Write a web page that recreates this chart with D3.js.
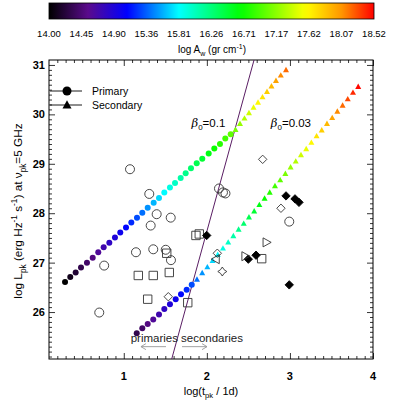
<!DOCTYPE html>
<html>
<head>
<meta charset="utf-8">
<script src="https://cdn.jsdelivr.net/npm/d3@7"></script>
<style>
  body { margin: 0; background: #fff; }
  svg { font-family: "Liberation Sans", Arial, Helvetica, sans-serif; }
</style>
</head>
<body>
<svg id="drawing_region"></svg>
<script>
// model tracks: [log t_pk, log L_pk, log A_w]
const beta01Primary = [
    [0.293,26.61,14.0],[0.356,26.71,14.1],[0.421,26.80,14.2],[0.485,26.90,14.3],[0.557,27.00,14.4],
    [0.626,27.10,14.5],[0.693,27.21,14.6],[0.758,27.31,14.7],[0.826,27.40,14.8],[0.894,27.51,14.9],
    [0.958,27.61,15.0],[1.027,27.71,15.1],[1.091,27.81,15.2],[1.159,27.91,15.3],[1.223,28.01,15.4],
    [1.288,28.11,15.5],[1.360,28.21,15.6],[1.424,28.31,15.7],[1.488,28.42,15.8],[1.556,28.52,15.9],
    [1.617,28.61,16.0],[1.685,28.71,16.1],[1.745,28.81,16.2],[1.809,28.91,16.3],[1.878,29.01,16.4],
    [1.945,29.10,16.5],[2.022,29.21,16.6],[2.090,29.31,16.7],[2.158,29.40,16.8],[2.222,29.51,16.9],
    [2.287,29.60,17.0]
];
const beta01Secondary = [
    [2.345,29.69,17.1],[2.399,29.81,17.2],[2.453,29.92,17.3],[2.507,30.03,17.4],[2.562,30.14,17.5],
    [2.616,30.24,17.6],[2.670,30.35,17.7],[2.724,30.46,17.8],[2.778,30.57,17.9],[2.832,30.68,18.0],
    [2.890,30.79,18.1],[2.953,30.90,18.2]
];
const beta003Primary = [
    [1.156,25.57,14.3],[1.223,25.67,14.4],[1.288,25.76,14.5],[1.355,25.85,14.6],[1.424,25.95,14.7],
    [1.488,26.06,14.8],[1.556,26.16,14.9],[1.625,26.26,15.0],[1.689,26.36,15.1],[1.757,26.45,15.2],
    [1.818,26.55,15.3]
];
const beta003Secondary = [
    [1.881,26.66,15.4],[1.944,26.79,15.5],[2.006,26.91,15.6],[2.069,27.04,15.7],[2.131,27.16,15.8],
    [2.194,27.29,15.9],[2.257,27.41,16.0],[2.319,27.54,16.1],[2.382,27.67,16.2],[2.444,27.79,16.3],
    [2.507,27.92,16.4],[2.570,28.04,16.5],[2.632,28.17,16.6],[2.695,28.30,16.7],[2.757,28.42,16.8],
    [2.820,28.55,16.9],[2.883,28.67,17.0],[2.945,28.80,17.1],[3.008,28.93,17.2],[3.070,29.05,17.3],
    [3.133,29.18,17.4],[3.196,29.30,17.5],[3.258,29.43,17.6],[3.321,29.56,17.7],[3.383,29.68,17.8],
    [3.446,29.81,17.9],[3.509,29.93,18.0],[3.571,30.06,18.1],[3.634,30.18,18.2],[3.696,30.31,18.3],
    [3.759,30.44,18.4],[3.822,30.56,18.5]
];

// primary / secondary dividing line
const dividerLine = [[1.577,25.05],[2.568,31.1]];

// observed events, by marker
const obsCircle = [
    [1.075,28.89],[1.307,28.39],[1.396,27.98],[1.324,27.75],[1.565,27.91],[1.147,27.21],
    [1.355,27.27],[1.505,27.26],[1.568,27.05],[0.764,26.94],[0.705,25.99],
    [2.146,28.50],[2.194,28.42],[2.224,28.40],[2.992,27.83]
];
const obsSquare = [
    [1.175,26.74],[1.355,26.74],[1.548,26.80],[1.517,27.19],[1.288,26.26],[1.770,26.19],
    [1.869,27.55],[1.909,27.58],[2.660,27.08]
];
const obsDiamond = [[1.536,26.31],[2.672,29.09],[2.892,28.10],[2.126,27.19]];
const obsDiamondFilled = [
    [1.998,27.55],[2.953,28.35],[3.061,28.29],[3.109,28.22],[2.499,27.07],[2.592,27.15],[2.992,26.55]
];
const obsTriRight = [[2.720,27.41],[2.465,27.13]];
const obsTriLeft = [[2.106,27.07]];
const obsStar = [[2.186,26.82]];

// axis & colour bar
const xTicks = [1, 2, 3, 4];
const yTicks = [26, 27, 28, 29, 30, 31];
const cbarLabels = ["14.00","14.45","14.90","15.36","15.81","16.26","16.71","17.17","17.62","18.07","18.52"];
const aMin = 14.0, aMax = 18.52;

const W = 407, H = 400;
const plot = {left: 49, right: 373, top: 60, bottom: 359};

const svg = d3.select('#drawing_region').attr('width', W).attr('height', H);

const xscale = d3.scaleLinear().domain([0.1, 4.0]).range([plot.left, plot.right]);
const yscale = d3.scaleLinear().domain([25.05, 31.1]).range([plot.bottom, plot.top]);

// IDL-like rainbow
const cstops = [
    [0.00, '#000000'], [0.12, '#5a0a8c'], [0.24, '#0000ff'], [0.40, '#00ffff'],
    [0.59, '#00ff00'], [0.79, '#ffff00'], [0.90, '#ff9600'], [1.00, '#ff0000']
];
const cpos = d3.scaleLinear().domain([aMin, aMax]).range([0, 1]);
const crain = d3.scaleLinear().domain(cstops.map(d => d[0])).range(cstops.map(d => d[1]))
    .interpolate(d3.interpolateRgb).clamp(true);
const colorOf = a => crain(cpos(a));

// ---------- colour bar
const cb = {left: 49, right: 374, top: 3, bottom: 19};
const defs = svg.append('defs');
const grad = defs.append('linearGradient').attr('id', 'cbar');
d3.range(0, 1.0001, 0.02).forEach(t => {
    grad.append('stop').attr('offset', t).attr('stop-color', crain(t));
});
svg.append('rect')
    .attr('x', cb.left).attr('y', cb.top)
    .attr('width', cb.right - cb.left).attr('height', cb.bottom - cb.top)
    .attr('fill', 'url(#cbar)').attr('stroke', '#000').attr('stroke-width', 0.8);

const cbx = d3.scalePoint().domain(cbarLabels).range([cb.left, cb.right]);
svg.append('g').selectAll('text').data(cbarLabels).join('text')
    .attr('x', d => cbx(d)).attr('y', 37)
    .attr('text-anchor', 'middle').attr('font-size', '9.5px')
    .text(d => d);

function richText(g, parts, size) {
    parts.forEach(p => {
        const ts = g.append('tspan').text(p[0]);
        if (p[1] === 'sub') ts.attr('font-size', size * 0.7).attr('dy', size * 0.3);
        if (p[1] === 'sup') ts.attr('font-size', size * 0.7).attr('dy', -size * 0.4);
        if (p[1] === 'sub' || p[1] === 'sup') {
            p.reset = p[1] === 'sub' ? -size * 0.3 : size * 0.4;
        }
    });
    const spans = g.selectAll('tspan').nodes();
    parts.forEach((p, i) => {
        if (p.reset && spans[i + 1]) {
            const next = d3.select(spans[i + 1]);
            next.attr('dy', (+next.attr('dy') || 0) + p.reset);
        }
    });
}

const cbTitle = svg.append('text')
    .attr('x', 212).attr('y', 53)
    .attr('text-anchor', 'middle').attr('font-size', '10px');
richText(cbTitle, [['log A'], ['w', 'sub'], [' (gr cm'], ['-1', 'sup'], [')']], 10);

// ---------- plot frame, ticks
const chart = svg.append('g');

const clip = defs.append('clipPath').attr('id', 'plotclip');
clip.append('rect').attr('x', plot.left).attr('y', plot.top)
    .attr('width', plot.right - plot.left).attr('height', plot.bottom - plot.top);

const xMinor = d3.range(0.2, 4.0, 0.1).filter(v => Math.abs(v - Math.round(v)) > 0.01);
const yMinor = d3.range(25.1, 31.1, 0.1).filter(v => Math.abs(v - Math.round(v)) > 0.01);

function tickAxis(axisFn, scale, vals, size, transform) {
    const a = axisFn(scale).tickValues(vals).tickSizeInner(-size).tickSizeOuter(0).tickFormat('');
    const g = chart.append('g').attr('transform', transform).call(a);
    g.select('.domain').remove();
    g.selectAll('line').attr('stroke', '#000').attr('stroke-width', 0.8);
    return g;
}
tickAxis(d3.axisBottom, xscale, xMinor, 3, `translate(0,${plot.bottom})`);
tickAxis(d3.axisBottom, xscale, xTicks, 6, `translate(0,${plot.bottom})`);
tickAxis(d3.axisTop, xscale, xMinor, 3, `translate(0,${plot.top})`);
tickAxis(d3.axisTop, xscale, xTicks, 6, `translate(0,${plot.top})`);
tickAxis(d3.axisLeft, yscale, yMinor, 3, `translate(${plot.left},0)`);
tickAxis(d3.axisLeft, yscale, yTicks, 6, `translate(${plot.left},0)`);
tickAxis(d3.axisRight, yscale, yMinor, 3, `translate(${plot.right},0)`);
tickAxis(d3.axisRight, yscale, yTicks, 6, `translate(${plot.right},0)`);

chart.append('rect')
    .attr('x', plot.left).attr('y', plot.top)
    .attr('width', plot.right - plot.left).attr('height', plot.bottom - plot.top)
    .attr('fill', 'none').attr('stroke', '#000').attr('stroke-width', 1);

chart.append('g').selectAll('text').data(xTicks).join('text')
    .attr('x', d => xscale(d)).attr('y', plot.bottom + 21)
    .attr('text-anchor', 'middle').attr('font-size', '11px').attr('font-weight', 'bold')
    .text(d => d);
chart.append('g').selectAll('text').data(yTicks).join('text')
    .attr('x', plot.left - 4).attr('y', d => yscale(d) + 4)
    .attr('text-anchor', 'end').attr('font-size', '11px').attr('font-weight', 'bold')
    .text(d => d);

const xlab = svg.append('text')
    .attr('x', 211).attr('y', 395)
    .attr('text-anchor', 'middle').attr('font-size', '11px');
richText(xlab, [['log(t'], ['pk', 'sub'], [' / 1d)']], 11);

const ylab = svg.append('text')
    .attr('transform', 'translate(22,211) rotate(-90)')
    .attr('text-anchor', 'middle').attr('font-size', '11.8px');
richText(ylab, [['log L'], ['pk', 'sub'], [' (erg Hz'], ['-1', 'sup'], [' s'], ['-1', 'sup'],
    [') at \u03bd'], ['pk', 'sub'], ['=5 GHz']], 11.8);

// ---------- markers
function markerPath(type, s) {
    const k = s * 0.3;
    switch (type) {
        case 'circle':
            return `M${-s},0A${s},${s} 0 1,0 ${s},0A${s},${s} 0 1,0 ${-s},0Z`;
        case 'triangle':
            return `M0,${-s * 1.05}L${s},${s * 0.75}L${-s},${s * 0.75}Z`;
        case 'square':
            return `M${-s},${-s}H${s}V${s}H${-s}Z`;
        case 'diamond':
            return `M0,${-s}L${s},0L0,${s}L${-s},0Z`;
        case 'triRight':
            return `M${-s * 0.8},${-s}L${s},0L${-s * 0.8},${s}Z`;
        case 'triLeft':
            return `M${s * 0.8},${-s}L${-s},0L${s * 0.8},${s}Z`;
        case 'star':
            return `M0,${-s}Q${k},${-k} ${s},0Q${k},${k} 0,${s}Q${-k},${k} ${-s},0Q${-k},${-k} 0,${-s}Z`;
    }
}

const marks = chart.append('g').attr('clip-path', 'url(#plotclip)');

// divider line
marks.append('path')
    .datum(dividerLine)
    .attr('d', d3.line().x(d => xscale(d[0])).y(d => yscale(d[1])))
    .attr('fill', 'none').attr('stroke', '#5a1e64').attr('stroke-width', 1);

function drawTrack(data, type, s) {
    marks.append('g').selectAll('path').data(data).join('path')
        .attr('transform', d => `translate(${xscale(d[0])},${yscale(d[1])})`)
        .attr('d', markerPath(type, s))
        .attr('fill', d => colorOf(d[2]));
}
drawTrack(beta01Primary, 'circle', 3);
drawTrack(beta01Secondary, 'triangle', 3);
drawTrack(beta003Primary, 'circle', 3);
drawTrack(beta003Secondary, 'triangle', 3);

function drawObs(data, type, s, filled) {
    marks.append('g').selectAll('path').data(data).join('path')
        .attr('transform', d => `translate(${xscale(d[0])},${yscale(d[1])})`)
        .attr('d', markerPath(type, s))
        .attr('fill', filled ? '#000' : 'none')
        .attr('stroke', filled ? '#000' : '#333')
        .attr('stroke-width', 0.9);
}
drawObs(obsCircle, 'circle', 4.5, false);
drawObs(obsSquare, 'square', 4.2, false);
drawObs(obsDiamond, 'diamond', 4.2, false);
drawObs(obsDiamondFilled, 'diamond', 4.2, true);
drawObs(obsTriRight, 'triRight', 4.5, false);
drawObs(obsTriLeft, 'triLeft', 4.5, false);
drawObs(obsStar, 'star', 4.5, false);

// ---------- legend
const legend = [['Primary', 'circle'], ['Secondary', 'triangle']];
const lg = chart.append('g').selectAll('g').data(legend).join('g')
    .attr('transform', (d, i) => `translate(0,${91 + i * 14})`);
lg.append('line').attr('x1', plot.left + 1).attr('x2', 82).attr('stroke', '#000').attr('stroke-width', 0.9);
lg.append('path').attr('transform', 'translate(67,0)').attr('d', d => markerPath(d[1], 4.5)).attr('fill', '#000');
lg.append('text').attr('x', 92).attr('y', 4).attr('font-size', '10.5px').text(d => d[0]);

// ---------- beta labels
function betaLabel(x, y, val) {
    const t = chart.append('text').attr('x', xscale(x)).attr('y', yscale(y)).attr('font-size', '11.5px');
    t.append('tspan').attr('font-style', 'italic').attr('font-family', '"DejaVu Serif", serif').text('\u03b2');
    t.append('tspan').attr('font-size', '8px').attr('dy', 3).text('0');
    t.append('tspan').attr('dy', -3).text('=' + val);
}
betaLabel(1.815, 29.74, '0.1');
betaLabel(2.77, 29.74, '0.03');

// ---------- primaries / secondaries annotation
const annotY = 25.40, arrowY = 25.30;
chart.append('text').attr('x', xscale(1.653)).attr('y', yscale(annotY))
    .attr('text-anchor', 'end').attr('font-size', '11.5px').attr('fill', '#222').text('primaries');
chart.append('text').attr('x', xscale(1.689)).attr('y', yscale(annotY))
    .attr('text-anchor', 'start').attr('font-size', '11.5px').attr('fill', '#222').text('secondaries');

const arrows = [[1.508, 1.207], [1.701, 2.002]];
arrows.forEach(a => {
    const x0 = xscale(a[0]), x1 = xscale(a[1]), yy = yscale(arrowY);
    const dir = x1 > x0 ? 1 : -1;
    chart.append('path')
        .attr('d', `M${x0},${yy}H${x1}M${x1 - dir * 5},${yy - 3}L${x1},${yy}L${x1 - dir * 5},${yy + 3}`)
        .attr('fill', 'none').attr('stroke', '#999').attr('stroke-width', 0.9);
});
</script>
</body>
</html>
